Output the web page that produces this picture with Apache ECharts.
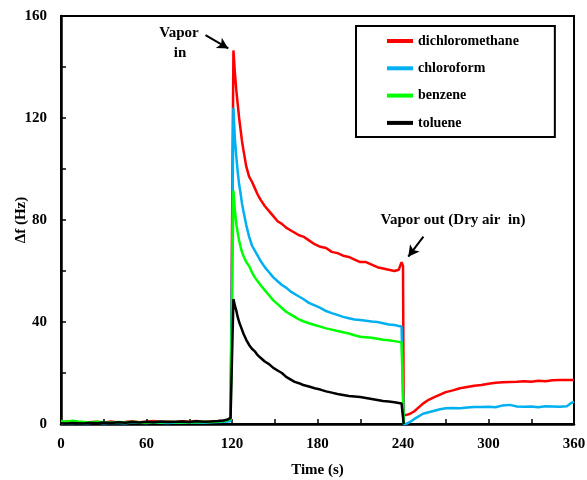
<!DOCTYPE html>
<html>
<head>
<meta charset="utf-8">
<script src="https://cdn.jsdelivr.net/npm/echarts@6/dist/echarts.min.js"></script>
<style>
  html, body { margin: 0; padding: 0; background: #fff; }
  #chart { width: 587px; height: 480px; }
</style>
</head>
<body>
<div id="chart"></div>
<script>
// time (s), split into baseline / vapor exposure / recovery
var timeBase = [0, 4, 8, 12, 16, 20, 25, 30, 35, 40, 45, 50, 55, 60, 65, 70, 75, 80, 85, 90, 95, 100, 105, 110, 114, 117, 119, 120];
var timeExposure = [121, 122, 123, 124, 125, 126, 127, 128, 130, 132, 134, 136, 138, 140,
  143, 146, 149, 152, 155, 158, 161, 164, 167, 170,
  174, 178, 182, 186, 190, 194, 198, 202, 206, 210, 214, 218, 222, 226, 230, 234, 237, 239, 240];
var timeRecovery = [240.5, 242, 245, 248, 251, 254, 258, 262, 266, 270,
  275, 280, 285, 290, 295, 300, 305, 310, 315, 320, 325, 330, 335, 340, 345, 350, 355, 358, 360];

// Δf (Hz)
var dcmBase = [0.5, 1.0, 0.6, 0.8, 0.4, 0.7, 0.9, 0.5, 1.0, 0.6, 0.8, 1.1, 0.7, 0.9, 1.2, 0.8, 1.0, 0.7, 1.1, 0.9, 1.2, 0.8, 1.0, 1.1, 1.3, 1.5, 1.8, 2.0];
var dcmExposure = [146.5, 138, 131, 125.5, 120, 115.5, 111, 107.5, 101, 97, 95, 92.5, 90, 88,
  85.5, 83.5, 81.5, 79.5, 78.5, 77, 76, 75, 74, 73.5,
  72, 70.5, 69.5, 69, 67.5, 67, 66, 65.5, 64.5, 63.5, 63.5, 62.5, 61.5, 61, 60.5, 60, 60.5, 63.5, 62];
var dcmRecovery = [3.5, 3.5, 4, 5, 6.5, 8, 9.5, 10.5, 11.5, 12.5,
  13.2, 14, 14.5, 15, 15.3, 15.8, 16.2, 16.4, 16.5, 16.6, 16.8, 16.6, 17, 16.8, 17.2, 17.3, 17.3, 17.3, 17.3];

var chlBase = [0.2, 0.4, 0.3, 0.5, 0.2, 0.4, 0.6, 0.3, 0.5, 0.4, 0.3, 0.6, 0.5, 0.4, 0.7, 0.5, 0.4, 0.6, 0.5, 0.7, 0.6, 0.5, 0.7, 0.8, 0.9, 1.0, 1.2, 1.4];
var chlExposure = [124, 112, 105, 99, 94, 90.5, 86.5, 83.5, 78, 73.5, 70, 68, 66, 64,
  61.5, 59.5, 57.5, 56, 54.5, 53.5, 52, 51, 50, 49,
  47.5, 46.5, 45.5, 44.3, 43.5, 42.8, 42, 41.5, 41, 40.8, 40.5, 40.2, 40, 39.5, 39, 38.8, 38.4, 38.2, 38];
var chlRecovery = [0, 0, 0.8, 2, 3, 4, 4.6, 5.2, 5.8, 6.2,
  6.3, 6.2, 6.5, 6.7, 6.7, 6.8, 6.6, 7.3, 7.5, 6.9, 6.8, 6.9, 6.6, 7, 6.9, 6.8, 7, 8.2, 8.8];

var benBase = [1.2, 0.9, 1.3, 1.0, 0.8, 0.6, 0.9, 0.7, 0.5, 0.8, 0.6, 0.9, 0.7, 0.5, 0.8, 0.6, 0.9, 0.7, 0.6, 0.8, 0.7, 0.9, 0.8, 1.0, 1.2, 1.5, 2.0, 2.2];
var benExposure = [91.5, 84, 78.5, 75, 72, 69.5, 67.5, 66, 63.5, 62, 59.5, 57.5, 56, 54.5,
  52.5, 50.5, 48.5, 47, 45.5, 44, 43, 42, 41, 40.3,
  39.5, 38.8, 38.2, 37.5, 37, 36.5, 36, 35.5, 34.8, 34.2, 34, 33.8, 33.4, 33, 32.8, 32.5, 32.2, 32, 32];
var benRecovery = [0];

var tolBase = [0.3, 0.2, 0.4, 0.3, 0.2, 0.5, 0.3, 0.6, 0.4, 0.7, 0.5, 0.8, 0.6, 0.9, 0.7, 1.0, 0.8, 0.9, 1.0, 0.8, 1.1, 0.9, 1.0, 1.2, 1.4, 1.8, 2.4, 2.8];
var tolExposure = [49, 46.5, 44.5, 42, 40, 38.5, 37, 35.5, 33, 31, 29.5, 28.5, 27, 26,
  24.5, 23.5, 22, 21, 20, 18.5, 17.5, 16.5, 16, 15.3,
  14.7, 14, 13.5, 12.8, 12.3, 11.8, 11.4, 11, 10.8, 10.6, 10.2, 9.8, 9.4, 9, 8.8, 8.5, 8.2, 8, 7.8];
var tolRecovery = [0];

var seriesNames = ["dichloromethane", "chloroform", "benzene", "toluene"];
var seriesColors = ["#ff0000", "#00b0f0", "#00ff00", "#000000"];

// annotation arrows [from, to] in data units
var arrowIn = [[101.4, 152.5], [117.4, 147.3]];
var arrowOut = [[254.3, 73.5], [243.7, 65.6]];

function pairs(times, values) {
  var out = [];
  for (var i = 0; i < values.length; i++) out.push([times[i], values[i]]);
  return out;
}

function build(base, exposure, recovery) {
  return pairs(timeBase, base).concat(pairs(timeExposure, exposure), pairs(timeRecovery, recovery));
}

var allData = [
  build(dcmBase, dcmExposure, dcmRecovery),
  build(chlBase, chlExposure, chlRecovery),
  build(benBase, benExposure, benRecovery),
  build(tolBase, tolExposure, tolRecovery)
];

var serif = '"Liberation Serif", "Times New Roman", serif';

var series = seriesNames.map(function (name, i) {
  var s = {
    name: name,
    type: "line",
    data: allData[i],
    showSymbol: false,
    symbol: "none",
    lineStyle: { color: seriesColors[i], width: 2.5 },
    itemStyle: { color: seriesColors[i] }
  };
  if (i === 3) {
    s.markLine = {
      silent: true,
      symbol: ["none", "arrow"],
      symbolSize: [9, 11],
      label: { show: false },
      lineStyle: { color: "#000", width: 2, type: "solid" },
      data: [
        [{ coord: arrowIn[0] }, { coord: arrowIn[1] }],
        [{ coord: arrowOut[0] }, { coord: arrowOut[1] }]
      ]
    };
  }
  return s;
});

var chart = echarts.init(document.getElementById("chart"));
chart.setOption({
  animation: false,
  backgroundColor: "#fff",
  grid: {
    left: 61, right: 13, top: 16, bottom: 56,
    containLabel: false,
    outerBoundsMode: "none",
    show: true, borderColor: "#000", borderWidth: 2
  },
  legend: {
    orient: "vertical",
    left: 356, top: 26,
    padding: [8, 36, 7, 31],
    itemGap: 13.3,
    itemWidth: 26, itemHeight: 4,
    icon: "rect",
    borderColor: "#000", borderWidth: 2,
    textStyle: { fontFamily: serif, fontWeight: "bold", fontSize: 14, color: "#000" },
    data: seriesNames
  },
  xAxis: {
    type: "value",
    min: 0, max: 360, interval: 30,
    name: "Time (s)",
    nameLocation: "middle",
    nameGap: 39,
    nameTextStyle: { fontFamily: serif, fontWeight: "bold", fontSize: 15, color: "#000" },
    axisLine: { lineStyle: { color: "#000", width: 2.5 } },
    axisTick: { inside: true, length: 5, lineStyle: { color: "#000", width: 1.5 } },
    splitLine: { show: false },
    axisLabel: {
      margin: 13,
      fontFamily: serif, fontWeight: "bold", fontSize: 15, color: "#000",
      formatter: function (v) { return v % 60 === 0 ? String(v) : ""; }
    }
  },
  yAxis: {
    type: "value",
    min: 0, max: 160, interval: 20,
    name: "\u0394f (Hz)",
    nameLocation: "middle",
    nameGap: 32,
    nameMoveOverlap: false,
    nameTextStyle: { fontFamily: serif, fontWeight: "bold", fontSize: 15, color: "#000" },
    axisLine: { show: true, lineStyle: { color: "#000", width: 2.5 } },
    axisTick: { show: true, inside: true, length: 5, lineStyle: { color: "#000", width: 1.5 } },
    splitLine: { show: false },
    axisLabel: {
      margin: 14,
      fontFamily: serif, fontWeight: "bold", fontSize: 15, color: "#000",
      formatter: function (v) { return v % 40 === 0 ? String(v) : ""; }
    }
  },
  graphic: [
    { type: "text", style: { text: "Vapor", x: 179, y: 33, align: "center", verticalAlign: "middle",
      font: "bold 15px " + serif, fill: "#000" } },
    { type: "text", style: { text: "in", x: 180, y: 53, align: "center", verticalAlign: "middle",
      font: "bold 15px " + serif, fill: "#000" } },
    { type: "text", style: { text: "Vapor out (Dry air  in)", x: 453, y: 220, align: "center", verticalAlign: "middle",
      font: "bold 15px " + serif, fill: "#000" } }
  ],
  series: series
});
</script>
</body>
</html>
